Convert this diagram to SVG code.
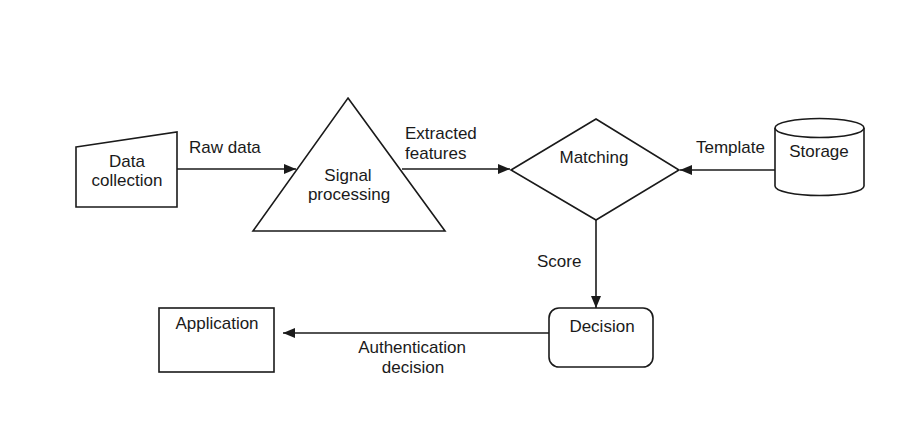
<svg xmlns="http://www.w3.org/2000/svg" width="906" height="433" viewBox="0 0 906 433">
<defs>
<style>
.s{fill:#fff;stroke:#1a1a1a;stroke-width:1.6}
.c{fill:none;stroke:#1a1a1a;stroke-width:1.6}
text{font-family:"Liberation Sans",Arial,sans-serif;font-size:17px;fill:#1a1a1a}
.m{text-anchor:middle}
</style>
<marker id="ah" viewBox="0 0 12 10" refX="12" refY="5" markerWidth="12" markerHeight="10" markerUnits="userSpaceOnUse" orient="auto">
<path d="M0,0 L12,5 L0,10 Z" fill="#1a1a1a"/>
</marker>
</defs>
<rect width="906" height="433" fill="#fff"/>
<g id="connectors">
<line class="c" x1="177" y1="169" x2="296" y2="169" marker-end="url(#ah)"/>
<line class="c" x1="402" y1="169" x2="510" y2="169" marker-end="url(#ah)"/>
<line class="c" x1="775" y1="170" x2="680" y2="170" marker-end="url(#ah)"/>
<line class="c" x1="596" y1="220" x2="596" y2="308" marker-end="url(#ah)"/>
<line class="c" x1="549" y1="333" x2="283" y2="333" marker-end="url(#ah)"/>
<text x="189" y="153">Raw data</text>
<text x="405" y="139">Extracted</text>
<text x="405" y="159">features</text>
<text x="696" y="153">Template</text>
<text x="537" y="267">Score</text>
<text class="m" x="412" y="353">Authentication</text>
<text class="m" x="413" y="373">decision</text>
</g>
<g id="data-collection">
<path class="s" d="M76,147 L177,132 L177,207 L76,207 Z"/>
<text class="m" x="127" y="167">Data</text>
<text class="m" x="127" y="186">collection</text>
</g>
<g id="signal-processing">
<path class="s" d="M348,98 L445,231 L253,231 Z"/>
<text class="m" x="348" y="181">Signal</text>
<text class="m" x="349" y="200">processing</text>
</g>
<g id="matching">
<path class="s" d="M511,170 L596,119 L679,170 L596,220 Z"/>
<text class="m" x="594" y="163">Matching</text>
</g>
<g id="storage">
<path class="s" d="M775,128 L775,186 A44.5,9.5 0 0 0 864,186 L864,128"/>
<ellipse class="s" cx="819.5" cy="128" rx="44.5" ry="9.5"/>
<text class="m" x="819" y="157">Storage</text>
</g>
<g id="decision">
<rect class="s" x="549" y="308" width="104" height="59" rx="10"/>
<text class="m" x="602" y="332">Decision</text>
</g>
<g id="application">
<rect class="s" x="159" y="308" width="115" height="64"/>
<text class="m" x="217" y="329">Application</text>
</g>
</svg>
